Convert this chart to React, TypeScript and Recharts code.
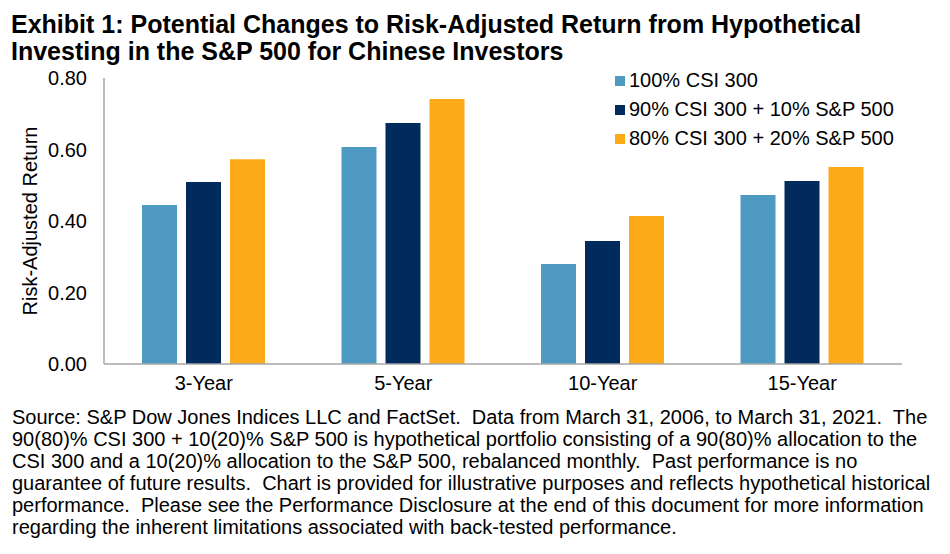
import React from 'react';
import { BarChart, Bar, XAxis, YAxis, Legend, Label } from 'recharts';

const periods = ['3-Year', '5-Year', '10-Year', '15-Year'];
const csi100 = [0.445, 0.607, 0.28, 0.473];
const csi90sp10 = [0.509, 0.674, 0.344, 0.512];
const csi80sp20 = [0.573, 0.741, 0.414, 0.551];
const yTicks = [0, 0.2, 0.4, 0.6, 0.8];

const seriesNames = ['100% CSI 300', '90% CSI 300 + 10% S&P 500', '80% CSI 300 + 20% S&P 500'];
const seriesColors = ['#4f9ac3', '#002b5c', '#fdaa19'];

const footnoteLines = [
  'Source: S&P Dow Jones Indices LLC and FactSet.  Data from March 31, 2006, to March 31, 2021.  The',
  '90(80)% CSI 300 + 10(20)% S&P 500 is hypothetical portfolio consisting of a 90(80)% allocation to the',
  'CSI 300 and a 10(20)% allocation to the S&P 500, rebalanced monthly.  Past performance is no',
  'guarantee of future results.  Chart is provided for illustrative purposes and reflects hypothetical historical',
  'performance.  Please see the Performance Disclosure at the end of this document for more information',
  'regarding the inherent limitations associated with back-tested performance.',
];

const data = periods.map((period, i) => ({
  period,
  a: csi100[i],
  b: csi90sp10[i],
  c: csi80sp20[i],
}));

const FONT = '"Liberation Sans", Arial, sans-serif';
const AXIS_GREY = '#a6a6a6';

// keep legend rows in series order (recharts sorts the payload by name)
const LegendBox: React.FC<any> = ({ payload }) => {
  const rows = [...(payload || [])].sort(
    (p: any, q: any) => seriesNames.indexOf(p.value) - seriesNames.indexOf(q.value)
  );
  return (
    <div style={{ fontFamily: FONT, fontSize: 20, color: '#000' }}>
      {rows.map((entry: any) => (
        <div key={entry.value} style={{ display: 'flex', alignItems: 'center', height: 29, whiteSpace: 'nowrap' }}>
          <span style={{ width: 10, height: 10, background: entry.color, display: 'inline-block', marginRight: 4 }} />
          <span>{entry.value}</span>
        </div>
      ))}
    </div>
  );
};

const App: React.FC = () => {
  return (
    <div style={{ position: 'absolute', left: 0, top: 0, width: 950, height: 554, background: '#fff', fontFamily: FONT, overflow: 'hidden' }}>
      <div style={{ position: 'absolute', left: 11, top: 11, fontSize: 25, fontWeight: 'bold', lineHeight: '27px', whiteSpace: 'nowrap', color: '#000' }}>
        Exhibit 1: Potential Changes to Risk-Adjusted Return from Hypothetical
        <br />
        Investing in the S&amp;P 500 for Chinese Investors
      </div>

      <div style={{ position: 'absolute', left: 0, top: 0 }}>
        <BarChart
          width={950}
          height={400}
          data={data}
          margin={{ top: 78, right: 48, left: 4, bottom: 6 }}
          barSize={35}
          barGap={9}
        >
          <XAxis
            dataKey="period"
            height={30}
            tickSize={0}
            tickMargin={12}
            axisLine={{ stroke: AXIS_GREY, strokeWidth: 1.5 }}
            tick={{ fill: '#000', fontSize: 20, fontFamily: FONT }}
          />
          <YAxis
            width={100}
            domain={[0, 0.8]}
            ticks={yTicks}
            tickSize={0}
            tickMargin={17}
            tickFormatter={(v: number) => v.toFixed(2)}
            axisLine={{ stroke: AXIS_GREY, strokeWidth: 1.5 }}
            tick={{ fill: '#000', fontSize: 20, fontFamily: FONT }}
          >
            <Label
              value="Risk-Adjusted Return"
              angle={-90}
              position="insideLeft"
              offset={26}
              style={{ textAnchor: 'middle', fontSize: 20, fontFamily: FONT, fill: '#000' }}
            />
          </YAxis>
          <Legend
            layout="vertical"
            align="center"
            verticalAlign="middle"
            content={<LegendBox />}
            wrapperStyle={{ left: 615, top: 66, width: 320 }}
          />
          <Bar dataKey="a" name={seriesNames[0]} fill={seriesColors[0]} isAnimationActive={false} />
          <Bar dataKey="b" name={seriesNames[1]} fill={seriesColors[1]} isAnimationActive={false} />
          <Bar dataKey="c" name={seriesNames[2]} fill={seriesColors[2]} isAnimationActive={false} />
        </BarChart>
      </div>

      <div style={{ position: 'absolute', left: 12, top: 406, fontSize: 20, lineHeight: '22px', color: '#000', whiteSpace: 'pre' }}>
        {footnoteLines.map((line) => (
          <div key={line}>{line}</div>
        ))}
      </div>
    </div>
  );
};

export default App;
